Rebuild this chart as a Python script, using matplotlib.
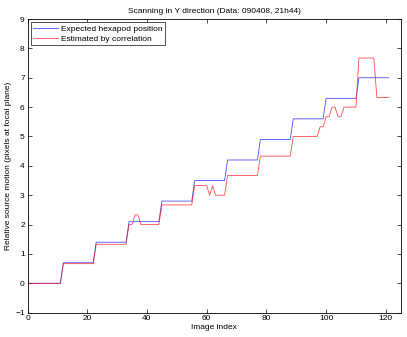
import matplotlib
matplotlib.use('Agg')
import matplotlib.pyplot as plt

# Image index 0..121
image_index = list(range(122))

# Expected hexapod position (pixels)
expected = ([0.0] * 12 + [0.7] * 11 + [1.4] * 11 + [2.1] * 11 + [2.8] * 11 +
            [3.5] * 11 + [4.2] * 11 + [4.9] * 11 + [5.6] * 11 + [6.3] * 11 +
            [7.0] * 11)

# Estimated by correlation (pixels)
estimated = [
    0.0, 0.0, 0.0, 0.0, 0.0, 0.0, 0.0, 0.0, 0.0, 0.0, 0.0, 0.0,
    0.67, 0.67, 0.67, 0.67, 0.67, 0.67, 0.67, 0.67, 0.67, 0.67, 0.67,
    1.33, 1.33, 1.33, 1.33, 1.33, 1.33, 1.33, 1.33, 1.33, 1.33, 1.33,
    2.0, 2.0, 2.33, 2.33, 2.0, 2.0, 2.0, 2.0, 2.0, 2.0, 2.0,
    2.67, 2.67, 2.67, 2.67, 2.67, 2.67, 2.67, 2.67, 2.67, 2.67, 2.67,
    3.33, 3.33, 3.33, 3.33, 3.33, 3.0, 3.33, 3.0, 3.0, 3.0, 3.0,
    3.67, 3.67, 3.67, 3.67, 3.67, 3.67, 3.67, 3.67, 3.67, 3.67, 3.67,
    4.33, 4.33, 4.33, 4.33, 4.33, 4.33, 4.33, 4.33, 4.33, 4.33, 4.33,
    5.0, 5.0, 5.0, 5.0, 5.0, 5.0, 5.0, 5.0, 5.0, 5.33, 5.33,
    5.67, 5.67, 6.0, 6.0, 5.67, 5.67, 6.0, 6.0, 6.0, 6.0, 6.0,
    7.67, 7.67, 7.67, 7.67, 7.67, 7.67, 6.33, 6.33, 6.33, 6.33, 6.33,
]

x_ticks = [0, 20, 40, 60, 80, 100, 120]
y_ticks = [-1, 0, 1, 2, 3, 4, 5, 6, 7, 8, 9]

plt.rcParams['font.family'] = ['Liberation Sans', 'DejaVu Sans']

fig = plt.figure(figsize=(4.07, 3.37), dpi=100)
ax = fig.add_axes([0.0676, 0.0721, 0.917, 0.8715])

ax.plot(image_index, expected, color='#0000ff', lw=0.6, alpha=0.7,
        label='Expected hexapod position')
ax.plot(image_index, estimated, color='#ff0000', lw=0.6, alpha=0.7,
        label='Estimated by correlation')

ax.set_xlim(0, 125)
ax.set_ylim(-1, 9)
ax.set_xticks(x_ticks)
ax.set_yticks(y_ticks)
ax.tick_params(direction='in', top=True, right=True, length=3, width=0.5,
               labelsize=6, pad=2)
for s in ax.spines.values():
    s.set_linewidth(0.6)

ax.set_title('Scanning in Y direction (Data: 090408, 21h44)', fontsize=6, pad=4)
ax.set_xlabel('Image index', fontsize=6, labelpad=1)
ax.set_ylabel('Relative source motion (pixels at focal plane)', fontsize=6,
              labelpad=2)

leg = ax.legend(loc='upper left', fontsize=6, fancybox=False, framealpha=1,
                edgecolor='#333333', handlelength=2.9, borderpad=0.3,
                labelspacing=0.25, handletextpad=0.4, borderaxespad=0.4)
leg.get_frame().set_linewidth(0.6)

fig.savefig('out.png', dpi=100)
